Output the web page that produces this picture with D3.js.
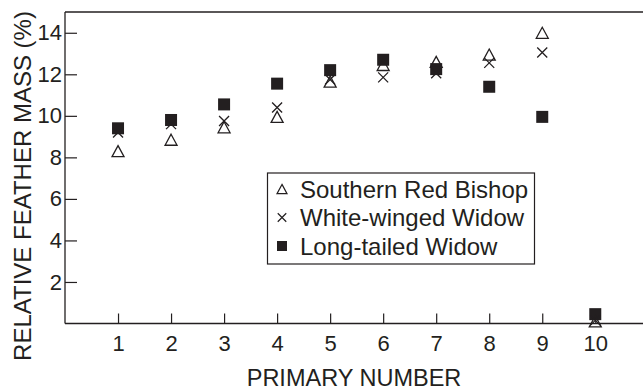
<!DOCTYPE html>
<html>
<head>
<meta charset="utf-8">
<script src="https://cdn.jsdelivr.net/npm/d3@7"></script>
<style>
  body { margin: 0; background: #fff; }
  text { font-family: "Liberation Sans", Arial, sans-serif; fill: #231f20; }
</style>
</head>
<body>
<svg id="chart" width="643" height="390"></svg>
<script>
var primaries = [1, 2, 3, 4, 5, 6, 7, 8, 9, 10];
var southernRedBishop = [8.3, 8.85, 9.45, 9.95, 11.65, 12.45, 12.6, 12.95, 14.0, 0.1];
var whiteWingedWidow = [9.2, 9.6, 9.75, 10.4, 11.75, 11.85, 12.05, 12.55, 13.05, 0.15];
var longTailedWidow = [9.4, 9.8, 10.55, 11.55, 12.2, 12.7, 12.25, 11.4, 9.95, 0.45];
var yTicks = [2, 4, 6, 8, 10, 12, 14];
var seriesNames = ["Southern Red Bishop", "White-winged Widow", "Long-tailed Widow"];

var ink = "#231f20";
var svg = d3.select("#chart");
var plotLeft = 65, plotTop = 12, plotBottom = 323.5, plotRight = 643;

var x = d3.scaleLinear().domain([0, 10.9]).range([plotLeft, plotRight]);
var y = d3.scaleLinear().domain([0, 15]).range([plotBottom, plotTop]);

// marker shapes
function tri(cx, cy, s) {
  var h = s * 0.92;
  return "M" + cx + "," + (cy - h / 2) + "L" + (cx + s / 2) + "," + (cy + h / 2) + "L" + (cx - s / 2) + "," + (cy + h / 2) + "Z";
}
function cross(cx, cy, s) {
  var r = s / 2;
  return "M" + (cx - r) + "," + (cy - r) + "L" + (cx + r) + "," + (cy + r) + "M" + (cx - r) + "," + (cy + r) + "L" + (cx + r) + "," + (cy - r);
}

// axes
var xAxis = d3.axisBottom(x).tickValues(primaries).tickSizeInner(-10).tickSizeOuter(0).tickPadding(12);
var yAxis = d3.axisLeft(y).tickValues(yTicks).tickSizeInner(-12).tickSizeOuter(0).tickPadding(3);

var gx = svg.append("g").attr("transform", "translate(0," + plotBottom + ")").call(xAxis);
var gy = svg.append("g").attr("transform", "translate(" + plotLeft + ",0)").call(yAxis);
[gx, gy].forEach(function(g) {
  g.select(".domain").remove();
  g.selectAll("line").attr("stroke", ink).attr("stroke-width", 1.2);
  g.selectAll("text").style("font-size", "22px").attr("fill", ink)
    .style("font-family", '"Liberation Sans", Arial, sans-serif');
});

// frame lines
svg.append("line").attr("x1", plotLeft).attr("x2", plotRight).attr("y1", plotBottom).attr("y2", plotBottom)
  .attr("stroke", ink).attr("stroke-width", 1.3);
svg.append("line").attr("x1", plotLeft).attr("x2", plotRight).attr("y1", plotTop).attr("y2", plotTop)
  .attr("stroke", ink).attr("stroke-width", 1.3);
svg.append("line").attr("x1", plotLeft).attr("x2", plotLeft).attr("y1", plotTop).attr("y2", plotBottom)
  .attr("stroke", ink).attr("stroke-width", 1.3);

// points
var pts = svg.append("g");
pts.selectAll("rect.ltw").data(longTailedWidow).enter().append("rect")
  .attr("x", function(d, i) { return x(primaries[i]) - 6; })
  .attr("y", function(d) { return y(d) - 6; })
  .attr("width", 12).attr("height", 12).attr("fill", ink);
pts.selectAll("path.wwv").data(whiteWingedWidow).enter().append("path")
  .attr("d", function(d, i) { return cross(x(primaries[i]), y(d), 10); })
  .attr("stroke", ink).attr("stroke-width", 1.3).attr("fill", "none");
pts.selectAll("path.srb").data(southernRedBishop).enter().append("path")
  .attr("d", function(d, i) { return tri(x(primaries[i]), y(d), 12); })
  .attr("stroke", ink).attr("stroke-width", 1.3).attr("fill", "none");

// legend
var lg = svg.append("g");
lg.append("rect").attr("x", 267.5).attr("y", 173).attr("width", 267).attr("height", 91)
  .attr("fill", "#fff").attr("stroke", ink).attr("stroke-width", 1.2);
var rowY = [189, 217.5, 246];
seriesNames.forEach(function(name, i) {
  var cy = rowY[i];
  if (i === 0) lg.append("path").attr("d", tri(282, cy, 10)).attr("stroke", ink).attr("stroke-width", 1.2).attr("fill", "none");
  if (i === 1) lg.append("path").attr("d", cross(282, cy, 8.5)).attr("stroke", ink).attr("stroke-width", 1.2).attr("fill", "none");
  if (i === 2) lg.append("rect").attr("x", 277).attr("y", cy - 5).attr("width", 10).attr("height", 10).attr("fill", ink);
  lg.append("text").attr("x", 300).attr("y", cy + 8.5).style("font-size", "24px").text(name);
});

// titles
svg.append("text").attr("x", 354).attr("y", 385.5).attr("text-anchor", "middle")
  .style("font-size", "23.5px").text("PRIMARY NUMBER");
svg.append("text").attr("transform", "translate(31,186) rotate(-90)").attr("text-anchor", "middle")
  .style("font-size", "24px").text("RELATIVE FEATHER MASS (%)");
</script>
</body>
</html>
